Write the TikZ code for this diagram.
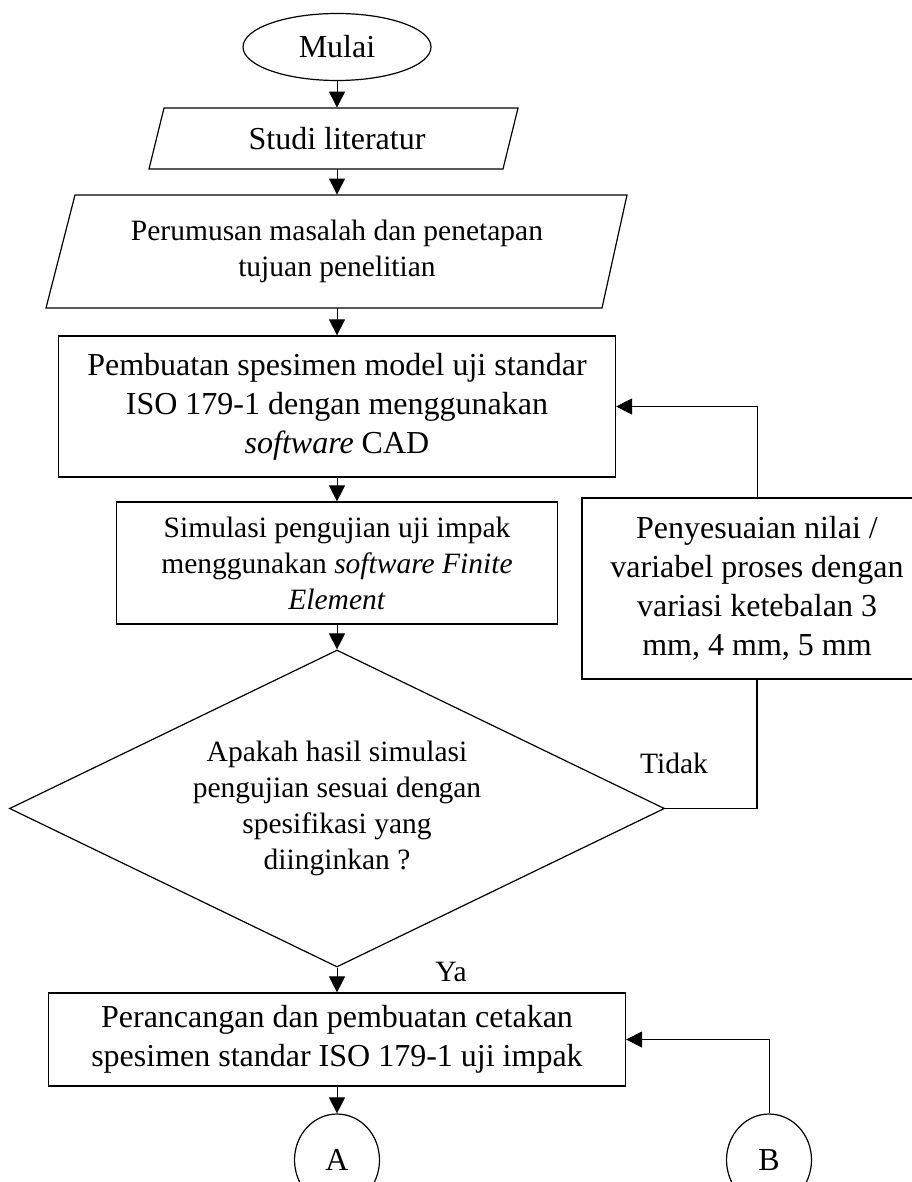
\documentclass[tikz,border=0pt]{standalone}
\usepackage{fontspec}
\setmainfont{Liberation Serif}
\usetikzlibrary{shapes.geometric}
\usetikzlibrary{arrows.meta}

\newcommand{\hurufbesar}{\fontsize{16pt}{19.5pt}\selectfont}
\newcommand{\hurufkecil}{\fontsize{14.75pt}{18pt}\selectfont}

\begin{document}
\begin{tikzpicture}[x=0.5pt, y=-0.5pt,
  garis/.style={line width=0.6pt},
  proses/.style={draw, garis, rectangle, align=center, inner sep=0pt},
  masukan/.style={rectangle, align=center, inner sep=0pt, minimum width=150pt},
  terminal/.style={draw, garis, ellipse, inner sep=0pt},
  keputusan/.style={draw, garis, diamond, aspect=2.07, align=center, inner sep=0pt},
  alur/.style={line width=0.5pt, -{Triangle[length=8pt,width=8pt]}}]

\useasboundingbox (0,0) rectangle (911,1182);

%main column
\node[terminal, minimum width=94pt, minimum height=33.5pt, font=\hurufbesar] (mulai) at (337,47) {Mulai};

\node[masukan, minimum height=30.5pt, font=\hurufbesar] (studi) at (337,138.5) {Studi literatur};
\draw[garis] (164,108) -- (518,108) -- (503,169) -- (149,169) -- cycle;

\node[masukan, minimum height=56.5pt, font=\hurufkecil] (rumusan) at (337,251.5)
  {Perumusan masalah dan penetapan\\ tujuan penelitian};
\draw[garis] (75,195) -- (627,195) -- (602,308) -- (46,308) -- cycle;

\node[proses, minimum width=278.5pt, minimum height=70.5pt, font=\hurufbesar] (pembuatan) at (337,406.5)
  {Pembuatan spesimen model uji standar\\ ISO 179-1 dengan menggunakan\\ \textit{software} CAD};

\node[proses, minimum width=220.5pt, minimum height=61pt, font=\hurufkecil] (simulasi) at (337,563)
  {Simulasi pengujian uji impak\\ menggunakan \textit{software Finite}\\ \textit{Element}};

\node[keputusan, minimum width=327.5pt, minimum height=158.5pt, font=\hurufkecil] (cek) at (337,808.5)
  {Apakah hasil simulasi\\ pengujian sesuai dengan\\ spesifikasi yang\\ diinginkan ?};

\node[proses, minimum width=288.5pt, minimum height=46.5pt, font=\hurufbesar] (rancang) at (337,1039.5)
  {Perancangan dan pembuatan cetakan\\ spesimen standar ISO 179-1 uji impak};

\node[terminal, minimum width=42.5pt, minimum height=46pt, font=\hurufbesar] (A) at (337,1160) {A};
\node[terminal, minimum width=42.5pt, minimum height=46pt, font=\hurufbesar] (B) at (769,1160) {B};

%side box
\node[proses, minimum width=175pt, minimum height=90.5pt, font=\hurufbesar] (sesuai) at (757,588.5)
  {Penyesuaian nilai /\\ variabel proses dengan\\ variasi ketebalan 3\\ mm, 4 mm, 5 mm};

%labels
\node[font=\hurufkecil] (tidak) at (674,763) {Tidak};
\node[font=\hurufkecil] (ya) at (451,972) {Ya};

%arrows
\draw[alur] (mulai) -- (studi);
\draw[alur] (studi) -- (rumusan);
\draw[alur] (rumusan) -- (pembuatan);
\draw[alur] (pembuatan) -- (simulasi);
\draw[alur] (simulasi) -- (cek);
\draw[alur] (cek) -- (rancang);
\draw[alur] (rancang) -- (A);

%loops
\draw[garis] (cek.east) -| (sesuai.south);
\draw[alur] (sesuai.north) |- (pembuatan.east);
\draw[alur] (B) |- (rancang.east);

\end{tikzpicture}
\end{document}
